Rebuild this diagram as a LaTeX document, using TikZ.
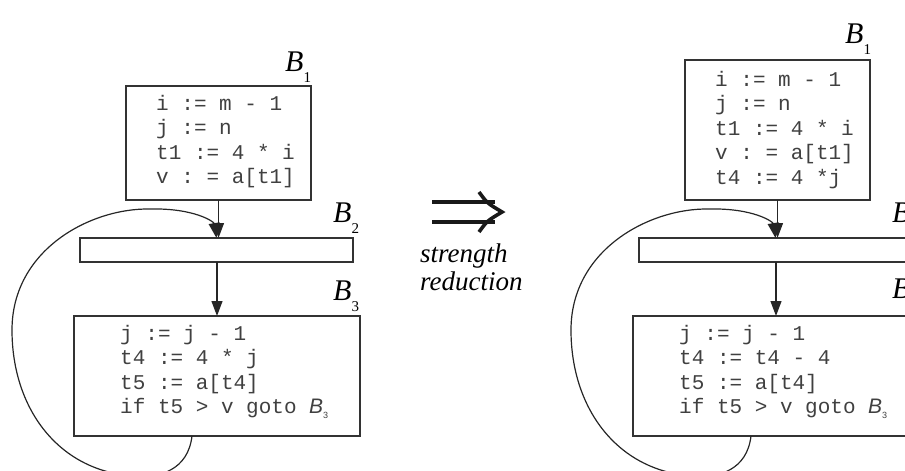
\documentclass[tikz,border=0pt]{standalone}
\usepackage{fontspec}
\setmainfont{Liberation Serif}
\setsansfont{Liberation Sans}
\setmonofont{Liberation Mono}
\usetikzlibrary{arrows.meta}
\newcommand\mylab[1]{\textit{B}\raisebox{-11pt}{\fontsize{15}{15}\selectfont\upshape #1}}
\newcommand\gotolab[1]{{\sffamily\itshape B}\raisebox{-5pt}{\fontsize{9}{9}\selectfont\sffamily #1}}
\begin{document}
\begin{tikzpicture}[x=1pt,y=-1pt,
  blk/.style={draw=black!80, line width=1.3pt, inner sep=0pt, outer sep=0pt},
  code/.style={anchor=base west, inner sep=0pt, text=black!75, font=\fontsize{21}{24.5}\ttfamily},
  lbl/.style={anchor=base west, inner sep=0pt, font=\fontsize{30}{30}\selectfont},
  flow/.style={draw=black!85, line width=1.2pt, -{Triangle[length=15pt,width=11pt]}},
  loopline/.style={draw=black!85, line width=1.2pt, -{Triangle[length=15pt,width=11pt]}},
  dbl/.style={line width=4pt, black!90}
]
\useasboundingbox (0,0) rectangle (905,471);
\clip (0,0) rectangle (905,471);

% ---------------- left diagram ----------------
\node[blk, minimum width=185pt, minimum height=114pt] (lb1) at (218.5,143) {};
\node[blk, minimum width=273pt, minimum height=24pt] (lb2) at (216.5,250) {};
\node[blk, minimum width=286pt, minimum height=120pt] (lb3) at (217,376) {};

\node[code] (lc1) at (156,110) {\begin{tabular}[t]{@{}l@{}}i := m - 1\\j := n\\t1 := 4 * i\\v : = a[t1]\end{tabular}};
\node[code] (lc3) at (120,340) {\begin{tabular}[t]{@{}l@{}}j := j - 1\\t4 := 4 * j\\t5 := a[t4]\\if t5 > v goto \gotolab{3}\end{tabular}};

\node[lbl] (ll1) at (285,71) {\mylab{1}};
\node[lbl] (ll2) at (333,222) {\mylab{2}};
\node[lbl] (ll3) at (333,300) {\mylab{3}};

\draw[flow] (lb1.south) -- (lb1.south |- lb2.north);
\draw[flow] (lb3.north |- lb2.south) -- (lb3.north);
\draw[loopline] ([xshift=-25pt]lb3.south) .. controls (188,470) and (160,478) .. (135,476)
  .. controls (60,472) and (12,410) .. (12,330)
  .. controls (12,250) and (90,208) .. (150,209)
  .. controls (195,208) and (214,222) .. (lb2.north);

% ---------------- middle ----------------
\draw[dbl] (432,201.5) -- (495,201.5);
\draw[dbl] (432,222) -- (495,222);
\draw[line width=3.6pt, black!90] (479,192) .. controls (487,203) .. (502,212) .. controls (487,221) .. (479,232);
\node[anchor=base west, inner sep=0pt, font=\fontsize{27}{28}\selectfont\itshape] (sr) at (420,262)
  {\begin{tabular}[t]{@{}l@{}}strength\\reduction\end{tabular}};

% ---------------- right diagram ----------------
\begin{scope}[xshift=559pt]
\node[blk, minimum width=185pt, minimum height=140pt] (rb1) at (218.5,130) {};
\node[blk, minimum width=273pt, minimum height=24pt] (rb2) at (216.5,250) {};
\node[blk, minimum width=286pt, minimum height=120pt] (rb3) at (217,376) {};

\node[code] (rc1) at (156,86) {\begin{tabular}[t]{@{}l@{}}i := m - 1\\j := n\\t1 := 4 * i\\v : = a[t1]\\t4 := 4 *j\end{tabular}};
\node[code] (rc3) at (120,340) {\begin{tabular}[t]{@{}l@{}}j := j - 1\\t4 := t4 - 4\\t5 := a[t4]\\if t5 > v goto \gotolab{3}\end{tabular}};

\node[lbl] (rl1) at (286,43) {\mylab{1}};
\node[lbl] (rl2) at (333,222) {\mylab{2}};
\node[lbl] (rl3) at (333,298) {\mylab{3}};

\draw[flow] (rb1.south) -- (rb1.south |- rb2.north);
\draw[flow] (rb3.north |- rb2.south) -- (rb3.north);
\draw[loopline] ([xshift=-25pt]rb3.south) .. controls (188,470) and (160,478) .. (135,476)
  .. controls (60,472) and (12,410) .. (12,330)
  .. controls (12,250) and (90,208) .. (150,209)
  .. controls (195,208) and (214,222) .. (rb2.north);
\end{scope}
\end{tikzpicture}
\end{document}
